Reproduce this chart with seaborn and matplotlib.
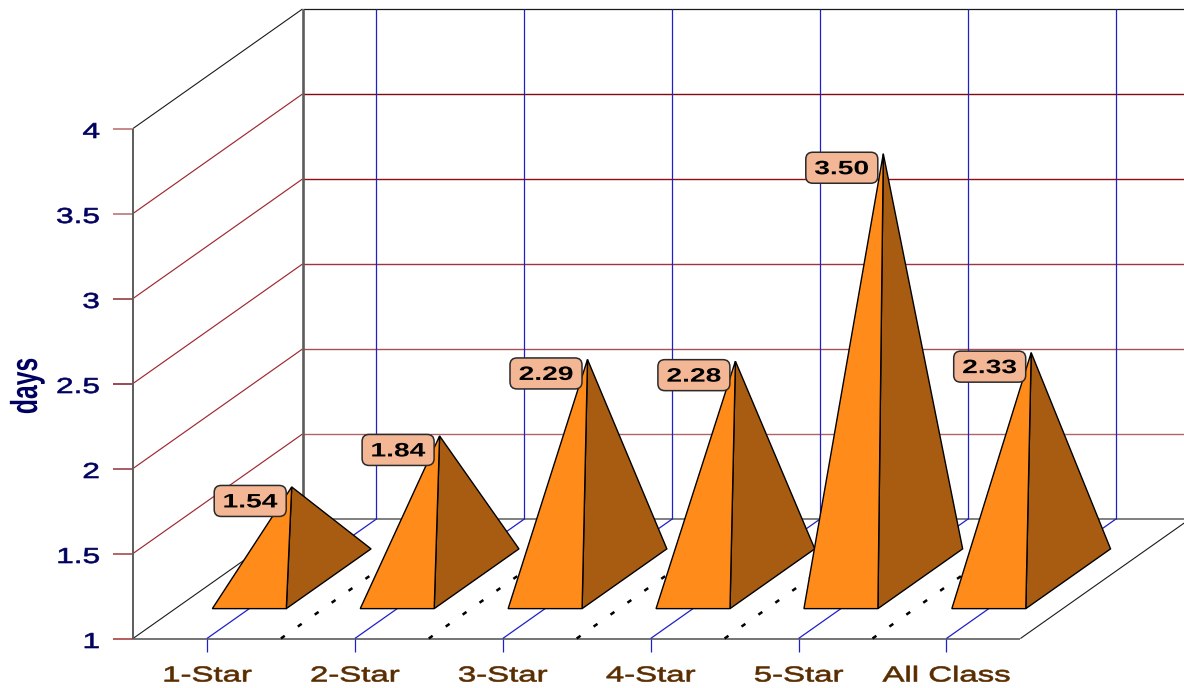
import matplotlib
matplotlib.use("Agg")
import matplotlib.pyplot as plt
import matplotlib.patheffects as pe
from matplotlib.patches import FancyBboxPatch
from matplotlib.transforms import Affine2D
import seaborn as sns

# Chart values
categories = ["1-Star", "2-Star", "3-Star", "4-Star", "5-Star", "All Class"]
days = [1.54, 1.84, 2.29, 2.28, 3.50, 2.33]
y_ticks = [1, 1.5, 2, 2.5, 3, 3.5, 4]
y_tick_labels = ["1", "1.5", "2", "2.5", "3", "3.5", "4"]
y_title = "days"

# Oblique projection of the box: column units, depth fraction, value
X0, Y0 = 133.0, 638.5
COL_W = 147.9
DEPTH_X, DEPTH_Y = 169.5, 119.5
UNIT_H = 170.0
W, H = 1184, 688


def proj(col, depth, value=1.0):
    return (X0 + col * COL_W + depth * DEPTH_X,
            Y0 - depth * DEPTH_Y - (value - 1.0) * UNIT_H)


class Stretch(pe.AbstractPathEffect):
    """Widen or narrow text glyphs about a point in figure pixels, with optional outline."""

    def __init__(self, cx, cy, sx=1.0, sy=1.0, stroke=0.0):
        super().__init__()
        self.cx, self.cy, self.sx, self.sy = cx, H - cy, sx, sy
        self.stroke = stroke

    def draw_path(self, renderer, gc, tpath, affine, rgbFace=None):
        scale = (Affine2D().translate(-self.cx, -self.cy)
                 .scale(self.sx, self.sy).translate(self.cx, self.cy))
        gc0 = renderer.new_gc()
        gc0.copy_properties(gc)
        gc0.set_linewidth(self.stroke)
        if self.stroke:
            gc0.set_foreground(rgbFace)
        renderer.draw_path(gc0, tpath, affine + scale, rgbFace)
        gc0.restore()


sns.set_theme(style="white")
plt.rcParams["font.family"] = ["Liberation Sans", "DejaVu Sans"]
plt.rcParams["lines.scale_dashes"] = False
plt.rcParams["lines.solid_capstyle"] = "butt"
plt.rcParams["lines.dash_capstyle"] = "butt"

fig = plt.figure(figsize=(W / 100, H / 100), dpi=100, facecolor="white")
ax = fig.add_axes([0, 0, 1, 1])


def seg(p, q, color, lw=1.0, z=1, **kw):
    sns.lineplot(x=[p[0], q[0]], y=[p[1], q[1]], ax=ax, color=color, linewidth=lw,
                 estimator=None, sort=False, legend=False, zorder=z, **kw)


BLACK = "#1a1a1a"
GRAY = "#5c5c5c"
BLUE = "#2020c8"
RED = [None, "#b06468", "#a85058", "#a0343c", "#8e0c14", "#800a12", None]
TICK_RED = [None, "#a03c40", "#903038", "#801820", "#8a2c30", "#b06c6c", None]
n_cols = len(categories)

# Horizontal value lines over side and back walls
for k, v in enumerate(y_ticks):
    front, back = proj(0, 0, v), proj(0, 1, v)
    far = proj(n_cols, 1, v)
    if k == 0:
        seg(back, far, GRAY, 1.1)
        seg(front, back, BLACK, 0.8)
        seg((113, front[1]), front, "#a03030", 1.1)
        continue
    if v == y_ticks[-1]:
        seg(front, back, BLACK, 0.8)
        seg(back, far, BLACK, 0.9)
        seg((113, front[1]), front, "#c08080", 1.3)
        continue
    seg(back, far, RED[k], 1.0)
    seg(front, back, "#a02830", 0.85)
    seg((113, front[1]), front, TICK_RED[k], 1.1)

# Vertical box edges
seg(proj(0, 0, 1), proj(0, 0, 4), GRAY, 1.4, z=2)
seg(proj(0, 1, 1), proj(0, 1, 4), GRAY, 1.9, z=2)

# Floor outline
seg(proj(0, 0), proj(n_cols, 0), GRAY, 1.2, z=2)
seg(proj(n_cols, 0), proj(n_cols, 1), BLACK, 0.8, z=2)

# Category lines: tick below the floor, across the floor, up the back wall
for i in range(n_cols + 1):
    if i < n_cols:
        c = i + 0.5
        fx, fy = proj(c, 0)
        seg((fx, fy), (fx, fy + 13), BLUE, 0.9, z=2)
        seg((fx, fy), proj(c, 1), BLUE, 0.9, z=2)
        seg(proj(c, 1), proj(c, 1, 4), BLUE, 0.9, z=2)
    if 0 < i < n_cols:
        seg(proj(i, 0), proj(i, 1), "black", 1.8, z=3,
            linestyle=(0, (3.4, 11.5)))

# Pyramids: front face, then the side face, apex height set by the value
ORANGE = sns.color_palette(["#ff8c1a"])[0]
BROWN = sns.color_palette(["#a85c12"])[0]
for i, v in enumerate(days):
    fl = proj(i + 0.25, 0.25)
    fr = proj(i + 0.75, 0.25)
    br = proj(i + 0.75, 0.75)
    apex = proj(i + 0.5, 0.5, v)
    ax.fill(*zip(fr, br, apex), facecolor=BROWN, edgecolor="black",
            linewidth=1.0, joinstyle="miter", zorder=5)
    ax.fill(*zip(fl, fr, apex), facecolor=ORANGE, edgecolor="black",
            linewidth=1.0, joinstyle="miter", zorder=6)

    # Value tag sits against the upper left of the apex
    bw, bh = 72, 31
    bx = apex[0] - 5.5 - bw
    by = apex[1] - 1.5
    ax.add_patch(FancyBboxPatch((bx + 5, by + 5), bw - 10, bh - 10,
                                boxstyle="round,pad=5,rounding_size=7",
                                facecolor="#f4b795", edgecolor="#2a2a2a",
                                linewidth=1.1, zorder=7))
    cx, cy = bx + bw / 2, by + bh / 2 + 2.0
    ax.text(cx, cy, f"{v:.2f}", ha="center", va="center", color="black",
            fontsize=14, fontweight="bold", zorder=8,
            path_effects=[Stretch(cx, cy, sx=1.45)])

# Value axis labels
for v, lab in zip(y_ticks, y_tick_labels):
    _, ty = proj(0, 0, v)
    tx, tyy = 100, ty + 4
    ax.text(tx, tyy, lab, ha="right", va="center", color="#000060",
            fontsize=15.6, path_effects=[Stretch(tx, tyy, sx=1.46, stroke=0.45)])

# Category labels
for i, lab in enumerate(categories):
    lx, _ = proj(i + 0.5, 0)
    ly = 676
    ax.text(lx, ly, lab, ha="center", va="center", color="#5a2d00",
            fontsize=15.6, path_effects=[Stretch(lx, ly, sx=1.52, stroke=0.45)])

# Axis title, tall and narrow
ax.text(27, 386, y_title, rotation=90, ha="center", va="center", color="#000060",
        fontsize=27, fontweight="bold",
        path_effects=[Stretch(27, 386, sx=1.0, sy=0.66)])

ax.set_xlim(0, W)
ax.set_ylim(H, 0)
ax.set_xlabel("")
ax.set_ylabel("")
ax.axis("off")
fig.savefig("out.png", dpi=100, facecolor="white")
